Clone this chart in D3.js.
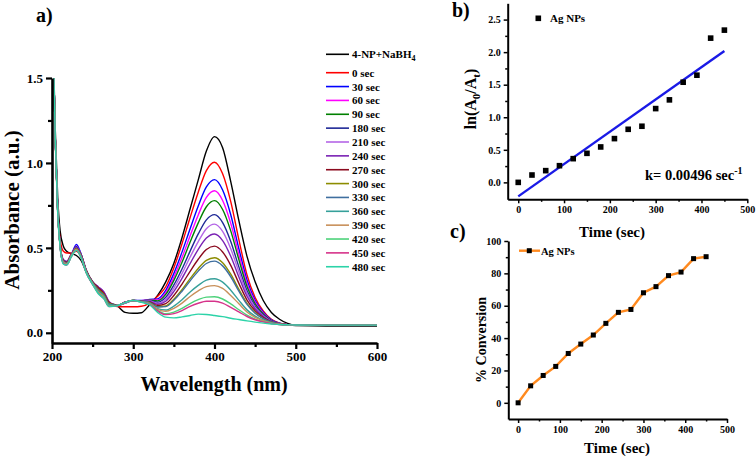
<!DOCTYPE html>
<html><head><meta charset="utf-8">
<script src="https://cdn.jsdelivr.net/npm/d3@7"></script>
<style>
body{margin:0;background:#fff}
svg{display:block}
text{font-family:"Liberation Serif","Times New Roman",serif;font-weight:bold;fill:#000}
</style>
</head><body>
<svg id="chart" width="756" height="457"></svg>
<script>
// ---------- DATA ----------
const wavelengths = [201,204,207,210,214,218,224,230,236,242,250,257,264,270,280,290,300,310,320,330,340,350,360,370,380,390,400,410,420,430,440,450,460,470,480,490,500,550,600];
const seriesNames = ["4-NP+NaBH4","0 sec","30 sec","60 sec","90 sec","180 sec","210 sec","240 sec","270 sec","300 sec","330 sec","360 sec","390 sec","420 sec","450 sec","480 sec"];
const seriesColors = ["#000000","#ff0000","#0000ff","#ff00ff","#008000","#1e2896","#b466e6","#7a22b4","#8b0a1e","#8c8c00","#3f6f9f","#36a09a","#c8905a","#4dd27a","#d6338a","#2cd3a8"];
const absNP    = [1.8,1.2,0.8,0.6,0.51,0.48,0.465,0.455,0.425,0.36,0.30,0.25,0.21,0.18,0.16,0.12, 0.115,0.118,0.165,0.22,0.30,0.41,0.56,0.73,0.90,1.07,1.155,1.09,0.89,0.66,0.45,0.30,0.19,0.12,0.08,0.055,0.042,0.04,0.04];
const abs0     = [1.8,1.15,0.74,0.55,0.48,0.47,0.47,0.48,0.445,0.36,0.29,0.25,0.215,0.175,0.155,0.153, 0.153,0.156,0.175,0.215,0.271,0.383,0.524,0.679,0.828,0.955,1.004,0.936,0.772,0.548,0.341,0.208,0.129,0.079,0.057,0.048,0.046,0.045,0.045];
const abs30    = [1.8,1.15,0.72,0.51,0.41,0.40,0.46,0.52,0.46,0.36,0.29,0.25,0.22,0.17,0.16,0.175, 0.19,0.19,0.197,0.20,0.25,0.35,0.475,0.613,0.747,0.859,0.902,0.841,0.695,0.495,0.311,0.191,0.121,0.076,0.056,0.048,0.046,0.045,0.045];
const abs60    = [1.8,1.15,0.72,0.515,0.415,0.405,0.46,0.51,0.455,0.365,0.295,0.255,0.225,0.175,0.16,0.178, 0.19,0.189,0.194,0.194,0.237,0.328,0.443,0.571,0.694,0.797,0.836,0.779,0.644,0.461,0.291,0.181,0.116,0.074,0.055,0.048,0.046,0.045,0.045];
const abs90    = [1.8,1.15,0.72,0.515,0.42,0.41,0.46,0.505,0.455,0.365,0.295,0.255,0.225,0.175,0.16,0.178, 0.19,0.188,0.192,0.188,0.226,0.309,0.415,0.534,0.647,0.742,0.778,0.726,0.600,0.431,0.273,0.171,0.111,0.072,0.055,0.048,0.046,0.045,0.045];
const abs180   = [1.8,1.15,0.73,0.52,0.425,0.415,0.465,0.505,0.46,0.37,0.30,0.265,0.235,0.18,0.16,0.18, 0.19,0.187,0.189,0.18,0.209,0.282,0.376,0.481,0.582,0.665,0.696,0.649,0.538,0.388,0.249,0.158,0.105,0.07,0.054,0.048,0.046,0.045,0.045];
const abs210   = [1.8,1.15,0.73,0.52,0.43,0.42,0.465,0.50,0.46,0.37,0.30,0.27,0.24,0.185,0.16,0.18, 0.19,0.186,0.187,0.174,0.198,0.263,0.349,0.446,0.537,0.613,0.640,0.597,0.495,0.359,0.232,0.149,0.10,0.068,0.053,0.048,0.046,0.045,0.045];
const abs240   = [1.8,1.15,0.73,0.52,0.43,0.42,0.465,0.50,0.46,0.37,0.30,0.27,0.24,0.185,0.16,0.18, 0.19,0.186,0.184,0.168,0.186,0.244,0.321,0.408,0.491,0.558,0.582,0.543,0.451,0.329,0.215,0.14,0.096,0.066,0.053,0.048,0.046,0.045,0.045];
const abs270   = [1.8,1.15,0.72,0.52,0.425,0.415,0.46,0.495,0.455,0.37,0.30,0.265,0.23,0.18,0.16,0.18, 0.19,0.185,0.181,0.161,0.172,0.22,0.287,0.362,0.433,0.49,0.510,0.476,0.397,0.291,0.193,0.129,0.09,0.064,0.052,0.048,0.046,0.045,0.045];
const abs300   = [1.8,1.15,0.72,0.515,0.42,0.41,0.46,0.495,0.45,0.365,0.295,0.255,0.225,0.175,0.16,0.178, 0.19,0.184,0.179,0.154,0.158,0.198,0.254,0.319,0.379,0.426,0.442,0.413,0.345,0.256,0.173,0.118,0.084,0.062,0.051,0.047,0.046,0.045,0.045];
const abs330   = [1.8,1.15,0.72,0.515,0.42,0.41,0.455,0.49,0.45,0.365,0.295,0.25,0.22,0.17,0.16,0.178, 0.19,0.184,0.178,0.152,0.154,0.191,0.245,0.306,0.363,0.408,0.422,0.394,0.33,0.245,0.167,0.115,0.083,0.062,0.051,0.047,0.046,0.045,0.045];
const abs360   = [1.8,1.15,0.72,0.51,0.415,0.405,0.455,0.49,0.445,0.36,0.29,0.245,0.215,0.165,0.16,0.177, 0.19,0.183,0.174,0.142,0.134,0.157,0.195,0.24,0.279,0.31,0.318,0.298,0.251,0.191,0.135,0.098,0.074,0.059,0.05,0.047,0.046,0.045,0.045];
const abs390   = [1.8,1.15,0.72,0.51,0.415,0.405,0.455,0.49,0.445,0.36,0.29,0.24,0.21,0.16,0.16,0.177, 0.19,0.182,0.172,0.138,0.126,0.144,0.175,0.214,0.247,0.272,0.278,0.261,0.22,0.171,0.123,0.091,0.071,0.057,0.05,0.047,0.046,0.045,0.045];
const abs420   = [1.8,1.15,0.71,0.505,0.41,0.40,0.45,0.485,0.44,0.355,0.285,0.235,0.205,0.158,0.16,0.177, 0.188,0.181,0.169,0.131,0.112,0.122,0.144,0.172,0.195,0.21,0.212,0.199,0.17,0.136,0.104,0.081,0.066,0.055,0.049,0.047,0.046,0.045,0.045];
const abs450   = [1.8,1.15,0.71,0.505,0.41,0.40,0.45,0.485,0.44,0.355,0.285,0.232,0.2,0.155,0.16,0.177, 0.188,0.181,0.168,0.129,0.107,0.113,0.131,0.155,0.174,0.186,0.186,0.175,0.15,0.123,0.096,0.077,0.064,0.054,0.049,0.047,0.046,0.045,0.045];
const abs480   = [1.8,1.15,0.71,0.505,0.405,0.40,0.45,0.485,0.44,0.355,0.285,0.23,0.2,0.155,0.16,0.178, 0.19,0.18,0.165,0.12,0.092,0.088,0.094,0.102,0.11,0.108,0.102,0.095,0.086,0.078,0.07,0.063,0.057,0.052,0.048,0.047,0.046,0.045,0.045];
const spectra = [absNP,abs0,abs30,abs60,abs90,abs180,abs210,abs240,abs270,abs300,abs330,abs360,abs390,abs420,abs450,abs480];

const times = [0,30,60,90,120,150,180,210,240,270,300,330,360,390,420,450];
const lnRatio = [0.0,0.113,0.18,0.256,0.364,0.446,0.544,0.672,0.815,0.862,1.133,1.267,1.538,1.646,2.215,2.338];
const fitTimes = [0,450];
const fitValues = [-0.215,2.017];
const conversion = [0,10.5,16.9,22.5,30.5,36.3,41.9,49.1,55.9,57.7,68.0,71.8,78.6,80.8,89.1,90.3];

const aXTicks = [200,300,400,500,600], aXMinor = [250,350,450,550];
const aYTicks = [0,0.5,1.0,1.5], aYMinor = [0.25,0.75,1.25];
const bXTicks = [0,100,200,300,400,500], bXMinor = [50,150,250,350,450];
const bYTicks = [0,0.5,1.0,1.5,2.0,2.5], bYMinor = [0.25,0.75,1.25,1.75,2.25];
const cXTicks = [0,100,200,300,400,500], cXMinor = [50,150,250,350,450];
const cYTicks = [0,20,40,60,80,100], cYMinor = [10,30,50,70,90];

// ---------- DRAW ----------
const svg = d3.select("#chart");

function axes(xs, ys, o) {
  const y0 = ys.range()[0], x0 = xs.range()[0];
  const gxm = svg.append("g").attr("transform", `translate(0,${y0})`)
    .call(d3.axisBottom(xs).tickValues(o.xMinor).tickSize(o.minor).tickSizeOuter(0).tickFormat(""));
  gxm.select(".domain").remove();
  const gym = svg.append("g").attr("transform", `translate(${x0},0)`)
    .call(d3.axisLeft(ys).tickValues(o.yMinor).tickSize(o.minor).tickSizeOuter(0).tickFormat(""));
  gym.select(".domain").remove();
  const gx = svg.append("g").attr("transform", `translate(0,${y0})`)
    .call(d3.axisBottom(xs).tickValues(o.xTicks).tickSize(o.major).tickSizeOuter(0).tickPadding(o.pad).tickFormat(o.fx));
  const gy = svg.append("g").attr("transform", `translate(${x0},0)`)
    .call(d3.axisLeft(ys).tickValues(o.yTicks).tickSize(o.major).tickSizeOuter(0).tickPadding(o.pad).tickFormat(o.fy));
  [gxm, gym, gx, gy].forEach(g => {
    g.selectAll(".domain").attr("stroke", "#000").attr("stroke-width", o.sw);
    g.selectAll(".tick line").attr("stroke", "#000").attr("stroke-width", o.tw);
    g.selectAll("text").attr("font-size", o.fs).attr("font-family", null).attr("font-weight", "bold");
  });
}

// Panel a
const xA = d3.scaleLinear().domain([200, 600]).range([52, 377]);
const yA = d3.scaleLinear().domain([-0.06, 1.5]).range([343, 78]);
svg.append("clipPath").attr("id", "clipA").append("rect")
  .attr("x", xA(200)).attr("y", yA(1.5)).attr("width", xA(600) - xA(200)).attr("height", yA(-0.06) - yA(1.5));
const lineA = d3.line().x((d, i) => xA(wavelengths[i])).y(d => yA(d)).curve(d3.curveMonotoneX);
const gA = svg.append("g").attr("clip-path", "url(#clipA)");
spectra.forEach((s, i) => {
  gA.append("path").attr("d", lineA(s)).attr("fill", "none")
    .attr("stroke", seriesColors[i]).attr("stroke-width", 1.4);
});
axes(xA, yA, {xTicks: aXTicks, xMinor: aXMinor, yTicks: aYTicks, yMinor: aYMinor,
  fx: d3.format("d"), fy: d3.format(".1f"), major: 6, minor: 4, pad: 3, sw: 2.6, tw: 2.2, fs: 13});

svg.append("text").attr("x", 36).attr("y", 22).attr("font-size", 20).text("a)");
svg.append("text").attr("transform", "translate(19,210) rotate(-90)").attr("text-anchor", "middle")
  .attr("font-size", 21).text("Absorbance (a.u.)");
svg.append("text").attr("x", 214).attr("y", 391).attr("text-anchor", "middle")
  .attr("font-size", 20).text("Wavelength (nm)");

// legend a
const legA = svg.append("g");
seriesNames.forEach((n, i) => {
  const yy = i === 0 ? 54.3 : 72.7 + (i - 1) * 13.86;
  legA.append("line").attr("x1", 326).attr("x2", 349).attr("y1", yy).attr("y2", yy)
    .attr("stroke", seriesColors[i]).attr("stroke-width", 1.6);
  const t = legA.append("text").attr("x", 352).attr("y", yy + 4).attr("font-size", 11);
  if (i === 0) {
    t.append("tspan").text("4-NP+NaBH");
    t.append("tspan").attr("dy", 3).attr("font-size", 8).text("4");
  } else t.text(n);
});

// Panel b
const xB = d3.scaleLinear().domain([-23, 500]).range([507.7, 747.3]);
const yB = d3.scaleLinear().domain([-0.26, 2.75]).range([199.3, 3.3]);
axes(xB, yB, {xTicks: bXTicks, xMinor: bXMinor, yTicks: bYTicks, yMinor: bYMinor,
  fx: d3.format("d"), fy: d3.format(".1f"), major: 4, minor: 2.5, pad: 3, sw: 2, tw: 1.5, fs: 10});
svg.append("path").attr("d", d3.line().x((d, i) => xB(fitTimes[i])).y(d => yB(d))(fitValues))
  .attr("fill", "none").attr("stroke", "#1a1ae6").attr("stroke-width", 2.4);
svg.append("g").selectAll("rect").data(lnRatio).join("rect")
  .attr("x", (d, i) => xB(times[i]) - 2.8).attr("y", d => yB(d) - 2.8)
  .attr("width", 5.6).attr("height", 5.6).attr("fill", "#000");
svg.append("rect").attr("x", 535.5).attr("y", 15.5).attr("width", 5.6).attr("height", 5.6).attr("fill", "#000");
svg.append("text").attr("x", 550).attr("y", 22).attr("font-size", 11).text("Ag NPs");
const kt = svg.append("text").attr("x", 645).attr("y", 180).attr("font-size", 14.5);
kt.append("tspan").text("k= 0.00496 sec");
kt.append("tspan").attr("dy", -6).attr("font-size", 10).text("-1");
svg.append("text").attr("x", 452).attr("y", 17).attr("font-size", 20).text("b)");
const yl = svg.append("text").attr("transform", "translate(476,99) rotate(-90)").attr("text-anchor", "middle").attr("font-size", 16);
yl.append("tspan").text("ln(A");
yl.append("tspan").attr("dy", 4).attr("font-size", 11).text("0");
yl.append("tspan").attr("dy", -4).text("/A");
yl.append("tspan").attr("dy", 4).attr("font-size", 11).text("t");
yl.append("tspan").attr("dy", -4).text(")");
svg.append("text").attr("x", 612).attr("y", 237).attr("text-anchor", "middle").attr("font-size", 15).text("Time (sec)");

// Panel c
const xC = d3.scaleLinear().domain([-23.5, 500]).range([508.3, 727]);
const yC = d3.scaleLinear().domain([-10, 100]).range([419, 241]);
axes(xC, yC, {xTicks: cXTicks, xMinor: cXMinor, yTicks: cYTicks, yMinor: cYMinor,
  fx: d3.format("d"), fy: d3.format("d"), major: 4, minor: 2.5, pad: 3, sw: 2, tw: 1.5, fs: 10});
svg.append("path").attr("d", d3.line().x((d, i) => xC(times[i])).y(d => yC(d))(conversion))
  .attr("fill", "none").attr("stroke", "#ff8a1f").attr("stroke-width", 2.4);
svg.append("g").selectAll("rect").data(conversion).join("rect")
  .attr("x", (d, i) => xC(times[i]) - 2.5).attr("y", d => yC(d) - 2.5)
  .attr("width", 5).attr("height", 5).attr("fill", "#000");
svg.append("line").attr("x1", 519).attr("x2", 540).attr("y1", 250.7).attr("y2", 250.7)
  .attr("stroke", "#ff8a1f").attr("stroke-width", 2.4);
svg.append("rect").attr("x", 526.8).attr("y", 248.2).attr("width", 5).attr("height", 5).attr("fill", "#000");
svg.append("text").attr("x", 541).attr("y", 254.5).attr("font-size", 10.5).text("Ag NPs");
svg.append("text").attr("x", 450).attr("y", 238).attr("font-size", 20).text("c)");
svg.append("text").attr("transform", "translate(486,340) rotate(-90)").attr("text-anchor", "middle")
  .attr("font-size", 14).text("% Conversion");
svg.append("text").attr("x", 617).attr("y", 453).attr("text-anchor", "middle").attr("font-size", 15).text("Time (sec)");
</script>
</body></html>
